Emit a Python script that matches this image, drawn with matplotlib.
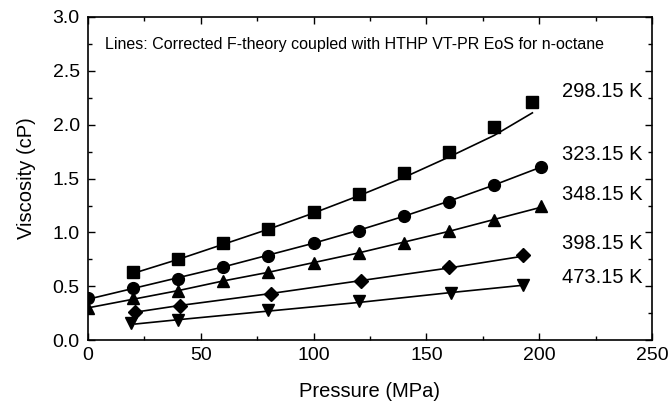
import matplotlib
matplotlib.use("Agg")
import matplotlib.pyplot as plt
from matplotlib.ticker import MultipleLocator

plt.rcParams['font.family'] = ['Liberation Sans', 'DejaVu Sans']

# Experimental points
p_298 = [20, 40, 60, 80, 100, 120, 140, 160, 180, 197]
v_298 = [0.63, 0.75, 0.90, 1.03, 1.19, 1.36, 1.55, 1.75, 1.98, 2.21]
p_323 = [0, 20, 40, 60, 80, 100, 120, 140, 160, 180, 201]
v_323 = [0.39, 0.48, 0.57, 0.68, 0.78, 0.90, 1.01, 1.15, 1.28, 1.44, 1.61]
p_348 = [0, 20, 40, 60, 80, 100, 120, 140, 160, 180, 201]
v_348 = [0.30, 0.39, 0.46, 0.55, 0.63, 0.72, 0.81, 0.90, 1.01, 1.12, 1.25]
p_398 = [21, 41, 81, 121, 160, 193]
v_398 = [0.26, 0.32, 0.43, 0.55, 0.68, 0.79]
p_473 = [19, 40, 80, 120, 161, 193]
v_473 = [0.16, 0.19, 0.28, 0.36, 0.44, 0.51]

# Model lines (Corrected F-theory + HTHP VT-PR EoS)
lp_298 = [20, 40, 60, 80, 100, 120, 140, 160, 180, 197]
lv_298 = [0.62, 0.75, 0.89, 1.03, 1.18, 1.34, 1.51, 1.70, 1.90, 2.11]
lp_323 = [0, 20, 40, 60, 80, 100, 120, 140, 160, 180, 200]
lv_323 = [0.38, 0.48, 0.58, 0.68, 0.79, 0.90, 1.02, 1.15, 1.29, 1.44, 1.60]
lp_348 = [0, 20, 40, 60, 80, 100, 120, 140, 160, 180, 202]
lv_348 = [0.30, 0.38, 0.46, 0.55, 0.63, 0.72, 0.81, 0.91, 1.01, 1.12, 1.24]
lp_398 = [21, 40, 80, 120, 160, 193]
lv_398 = [0.26, 0.32, 0.43, 0.55, 0.67, 0.78]
lp_473 = [21, 40, 80, 120, 160, 193]
lv_473 = [0.15, 0.19, 0.27, 0.35, 0.44, 0.51]

labels = ["298.15 K", "323.15 K", "348.15 K", "398.15 K", "473.15 K"]
label_y = [2.31, 1.72, 1.35, 0.90, 0.58]

fig = plt.figure(figsize=(6.69, 4.04), dpi=100)
ax = fig.add_axes([0.1315, 0.158, 0.843, 0.800])

series = [
    (p_298, v_298, lp_298, lv_298, 's', 8),
    (p_323, v_323, lp_323, lv_323, 'o', 8.5),
    (p_348, v_348, lp_348, lv_348, '^', 9),
    (p_398, v_398, lp_398, lv_398, 'D', 7.5),
    (p_473, v_473, lp_473, lv_473, 'v', 9),
]
for px, py, lx, ly, m, ms in series:
    ax.plot(lx, ly, '-', color='black', lw=1.2)
    ax.plot(px, py, m, color='black', ms=ms, ls='none')

for lab, y in zip(labels, label_y):
    ax.text(210, y, lab, fontsize=14.5, va='center', ha='left')

ax.text(7.5, 2.74, "Lines: Corrected F-theory coupled with HTHP VT-PR EoS for n-octane",
        fontsize=11.5, va='center', ha='left')

ax.set_xlim(0, 250)
ax.set_ylim(0, 3.0)
ax.xaxis.set_major_locator(MultipleLocator(50))
ax.xaxis.set_minor_locator(MultipleLocator(25))
ax.yaxis.set_major_locator(MultipleLocator(0.5))
ax.yaxis.set_minor_locator(MultipleLocator(0.25))
ax.yaxis.set_major_formatter(matplotlib.ticker.FormatStrFormatter('%.1f'))
ax.tick_params(which='both', direction='in', top=True, right=True, labelsize=14)
ax.tick_params(which='major', length=5, width=1)
ax.tick_params(which='minor', length=3, width=1)
ax.tick_params(axis='x', pad=5)
ax.tick_params(axis='y', pad=6)
for s in ax.spines.values():
    s.set_linewidth(1.2)

ax.set_xlabel("Pressure (MPa)", fontsize=14.5, labelpad=13)
ax.set_ylabel("Viscosity (cP)", fontsize=14.5, labelpad=12)

fig.savefig("out.png", dpi=100)
